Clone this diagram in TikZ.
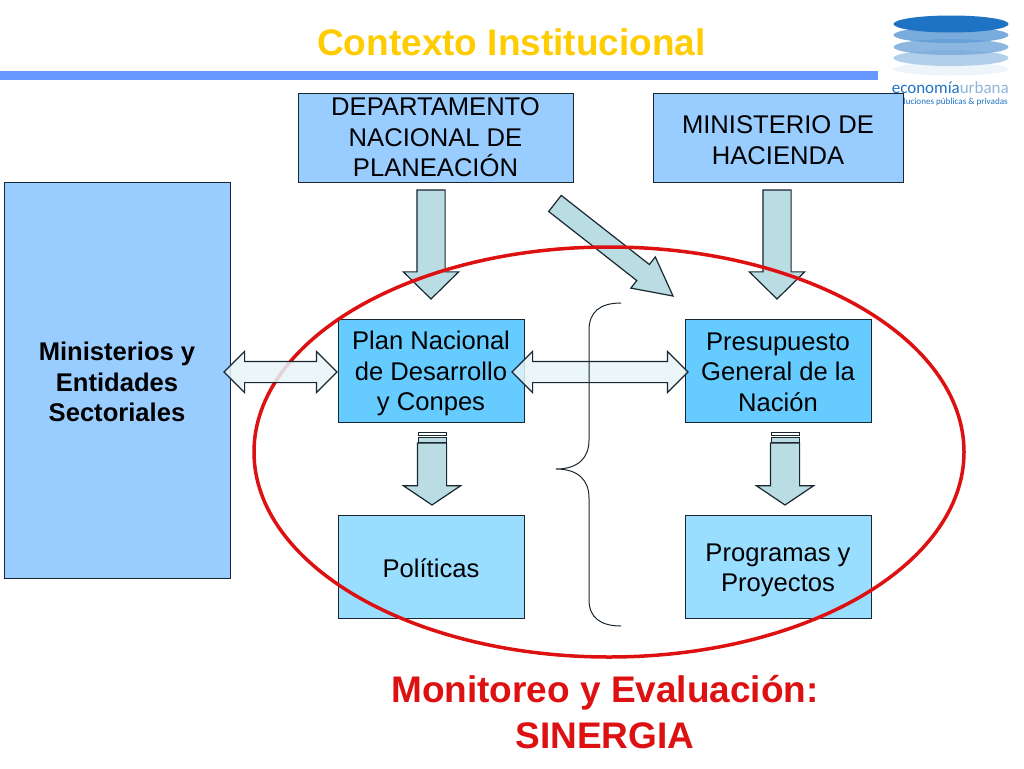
\documentclass[tikz,border=0pt]{standalone}
\usepackage{fontspec}
\setmainfont{Liberation Sans}
\newfontfamily\logofont{Carlito}
\usetikzlibrary{positioning,shapes.arrows,shapes.geometric}
\definecolor{titleyellow}{HTML}{FFCC00}
\definecolor{barblue}{HTML}{6699FF}
\definecolor{boxblue}{HTML}{99CCFF}
\definecolor{planblue}{HTML}{66CCFF}
\definecolor{polblue}{HTML}{99DDFF}
\definecolor{arrowteal}{HTML}{B9DDE3}
\definecolor{pale}{HTML}{E8F5F8}
\definecolor{ringred}{HTML}{DD1111}
\definecolor{edgeblack}{HTML}{1A2630}
\definecolor{logoblue}{HTML}{1F73C4}
\definecolor{logolight}{HTML}{8FB4DC}
\newcommand{\lift}[1]{\rule{0pt}{#1pt}}

\begin{document}
\begin{tikzpicture}[x=1pt,y=-1pt,
			box/.style={rectangle, draw=edgeblack, line width=1pt, inner sep=0pt, outer sep=0pt, align=center, font=\fontsize{25.6}{30.5}\selectfont},
			downarrow/.style={single arrow, draw=edgeblack, line width=1.2pt, fill=arrowteal, inner sep=0pt, inner ysep=14pt, outer sep=0pt, anchor=tip, rotate=-90},
			bothways/.style={double arrow, draw=edgeblack, line width=1.2pt, fill=pale, fill opacity=.85, inner sep=0pt, inner ysep=10pt, outer sep=0pt, double arrow head extend=10pt, double arrow tip angle=90},
			stripe/.style={rectangle, draw=edgeblack, line width=1pt, fill=white, inner sep=0pt, outer sep=0pt, minimum width=28pt},
			logodisc/.style={ellipse, inner sep=0pt, outer sep=0pt, minimum width=115pt}]
	\useasboundingbox (0,0) rectangle (1024,768);
	\fill[white] (0,0) rectangle (1024,768);
	% heading
	\node[text=titleyellow, font=\fontsize{37}{40}\bfseries\selectfont] (title) at (511.5,42) {Contexto Institucional};
	\node[rectangle, fill=barblue, inner sep=0pt, minimum width=878pt, minimum height=9pt] (bar) at (439,75.5) {};
	% logo
	\node[logodisc, fill=logoblue!8!white, minimum height=13pt] (disc5) at (951,69) {};
	\node[logodisc, fill=logoblue!35!white, minimum height=16pt] (disc4) at (951,58) {};
	\node[logodisc, fill=logoblue!60!white, fill opacity=.85, minimum height=16pt] (disc3) at (951,47) {};
	\node[logodisc, fill=logoblue!70!white, fill opacity=.85, minimum height=16pt] (disc2) at (951,35) {};
	\node[logodisc, fill=logoblue, minimum height=17pt] (disc1) at (951,24) {};
	\node[anchor=east, inner sep=0pt, font=\logofont\fontsize{17}{19}\selectfont] (logoname) at (1009,88) {\textcolor{logoblue}{economía}\textcolor{logolight}{urbana}};
	\node[anchor=east, inner sep=0pt, text=logoblue, font=\logofont\fontsize{9.1}{10}\selectfont] (logosub) at (1008,102) {luciones públicas \& privadas};
	% boxes
	\node[box, fill=boxblue, minimum width=275pt, minimum height=89pt] (dnp) at (435.5,137.5) {DEPARTAMENTO\\NACIONAL DE\\PLANEACIÓN};
	\node[box, fill=boxblue, minimum width=250pt, minimum height=89pt] (hacienda) at (778,137.5) {\lift{23}MINISTERIO DE\\HACIENDA};
	\node[box, fill=boxblue, minimum width=226pt, minimum height=396pt, font=\fontsize{25.6}{30.5}\bfseries\selectfont] (sectores) at (117,380) {\lift{23}Ministerios y\\Entidades\\Sectoriales};
	\node[box, fill=planblue, minimum width=186pt, minimum height=103pt] (plan) at (431,370.5) {\lift{25}Plan Nacional\\de Desarrollo\\y Conpes};
	\node[box, fill=planblue, minimum width=186pt, minimum height=103pt] (presupuesto) [right=161pt of plan] {\lift{21}Presupuesto\\General de la\\Nación};
	\node[box, fill=polblue, minimum width=186pt, minimum height=103pt] (politicas) [below=93pt of plan] {\lift{23}Políticas};
	\node[box, fill=polblue, minimum width=186pt, minimum height=103pt] (programas) [below=93pt of presupuesto] {\lift{25}Programas y\\Proyectos};
	% arrows under the ring
	\node[downarrow, inner ysep=13.5pt, minimum height=109pt, single arrow head extend=13.5pt, single arrow tip angle=91] (arrowdnp) at (431,299) {};
	\node[downarrow, inner ysep=13.5pt, minimum height=109pt, single arrow head extend=13.5pt, single arrow tip angle=91] (arrowhacienda) at (777,299) {};
	\node[downarrow, rotate=-38.1+90, inner ysep=9.6pt, minimum height=150pt, single arrow head extend=9.6pt, single arrow tip angle=55] (arrowdiag) at (673,296) {};
	\node[downarrow, minimum height=62pt, single arrow head extend=14pt, single arrow tip angle=112] (arrowplan) at (432,505) {};
	\node[stripe, minimum height=3pt] (stripea) at (432,433.5) {};
	\node[stripe, fill=arrowteal, minimum height=5pt] (stripeb) at (432,439.5) {};
	\node[downarrow, minimum height=62pt, single arrow head extend=14pt, single arrow tip angle=112] (arrowpresu) at (785,505) {};
	\node[stripe, minimum height=3pt] (stripec) at (785,433.5) {};
	\node[stripe, fill=arrowteal, minimum height=5pt] (striped) at (785,439.5) {};
	% ring
	\node[ellipse, draw=ringred, line width=3.5pt, inner sep=0pt, outer sep=0pt, minimum width=710pt, minimum height=410pt] (ring) at (609,452) {};
	% arrows over the ring
	\node[bothways, minimum height=113pt] (linksector) at (280.5,372) {};
	\node[bothways, minimum height=176pt] (linkplan) at (600,372) {};
	% brace
	\draw[edgeblack, line width=1pt] (621,303) .. controls (600,303) and (589,312) .. (589,330) -- (589,440) .. controls (589,458) and (578,469) .. (556,469) .. controls (578,469) and (589,480) .. (589,498) -- (589,600) .. controls (589,617) and (600,626) .. (621,626);
	% caption
	\node[text=ringred, align=center, font=\fontsize{37}{45.5}\bfseries\selectfont] (caption) at (605,712) {Monitoreo y Evaluación:\\SINERGIA};
\end{tikzpicture}
\end{document}
